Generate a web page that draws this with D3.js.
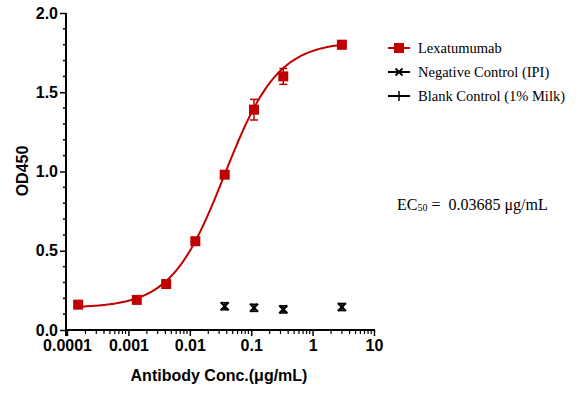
<!DOCTYPE html>
<html><head><meta charset="utf-8">
<script src="https://cdn.jsdelivr.net/npm/d3@7/dist/d3.min.js"></script>
<style>body{margin:0;background:#fff}svg{display:block}text{white-space:pre}</style>
</head><body><svg id="c" width="579" height="397"></svg>
<script>
const concs = [0.000152, 0.00137, 0.00412, 0.0123, 0.037, 0.111, 0.333, 3];
const lexValues = [0.16, 0.19, 0.29, 0.56, 0.98, 1.39, 1.60, 1.80];
const lexErrors = [0.01, 0.01, 0.01, 0.01, 0.01, 0.065, 0.05, 0.025];
const negConcs = [0.037, 0.111, 0.333, 3];
const negValues = [0.15, 0.14, 0.13, 0.145];
const negErrors = [0.01, 0.01, 0.01, 0.01];
const xTicks = [0.0001, 0.001, 0.01, 0.1, 1, 10];
const xTickLabels = ["0.0001", "0.001", "0.01", "0.1", "1", "10"];
const yTicks = [0, 0.5, 1.0, 1.5, 2.0];
const legendLabels = ["Lexatumumab", "Negative Control (IPI)", "Blank Control (1% Milk)"];
const fitBottom = 0.14, fitTop = 1.82, fitEC50 = 0.03685, fitHill = 1.0;

const red = "#c00000";
const svg = d3.select("#c");
const x = d3.scaleLog().domain([0.0001, 10]).range([67, 374]);
const y = d3.scaleLinear().domain([0, 2]).range([330, 13]);

// curve from fitted 4PL parameters
const fit = c => fitBottom + (fitTop - fitBottom) / (1 + Math.pow(fitEC50 / c, fitHill));
const curveX = d3.range(0, 201).map(i => Math.pow(10, Math.log10(concs[0]) + i / 200 * (Math.log10(concs[concs.length-1]) - Math.log10(concs[0]))));
svg.append("path").datum(curveX)
  .attr("d", d3.line().x(c => x(c)).y(c => y(fit(c))))
  .attr("fill", "none").attr("stroke", red).attr("stroke-width", 2);

// axes
const yAxis = d3.axisLeft(y).tickValues(yTicks).tickFormat(d3.format(".1f")).tickSize(6).tickPadding(2);
const gy = svg.append("g").attr("transform", "translate(66,0)").call(yAxis);
gy.select(".domain").remove();
gy.append("line").attr("x1", 0).attr("x2", 0).attr("y1", y(2)).attr("y2", 336).attr("stroke", "#000").attr("stroke-width", 2);
gy.selectAll(".tick line").attr("stroke-width", 1.5);
gy.selectAll("text").attr("font-family", "Liberation Sans, Arial").attr("font-weight", "bold").attr("font-size", 16).attr("fill", "#000");
// y minor ticks
svg.append("g").selectAll("line").data(d3.range(1, 20).filter(i => i % 5 !== 0).map(i => i / 10)).join("line")
  .attr("x1", 63).attr("x2", 66).attr("y1", d => y(d)).attr("y2", d => y(d)).attr("stroke", "#000").attr("stroke-width", 1.5);

const xAxis = d3.axisBottom(x).tickValues(xTicks).tickFormat((d, i) => xTickLabels[i]).tickSize(6).tickPadding(4);
const gx = svg.append("g").attr("transform", "translate(0,330)").call(xAxis);
gx.select(".domain").remove();
gx.append("line").attr("x1", 66).attr("x2", 375).attr("y1", 0).attr("y2", 0).attr("stroke", "#000").attr("stroke-width", 2);
gx.selectAll(".tick line").attr("stroke-width", 1.5);
gx.selectAll("text").attr("font-family", "Liberation Sans, Arial").attr("font-weight", "bold").attr("font-size", 16).attr("fill", "#000");
const minor = [];
for (let e = -4; e < 1; e++) for (let m = 2; m <= 9; m++) minor.push(m * Math.pow(10, e));
svg.append("g").selectAll("line").data(minor).join("line")
  .attr("x1", d => x(d)).attr("x2", d => x(d)).attr("y1", 330).attr("y2", 334).attr("stroke", "#000").attr("stroke-width", 1.2);

// axis titles
svg.append("text").attr("x", 219).attr("y", 381).attr("text-anchor", "middle")
  .attr("font-family", "Liberation Sans, Arial").attr("font-weight", "bold").attr("font-size", 16).text("Antibody Conc.(μg/mL)");
svg.append("text").attr("transform", "translate(28,171) rotate(-90)").attr("text-anchor", "middle")
  .attr("font-family", "Liberation Sans, Arial").attr("font-weight", "bold").attr("font-size", 16).text("OD450");

// error bars Lexatumumab
const eb = svg.append("g").attr("stroke", red).attr("stroke-width", 1.5);
concs.forEach((c, i) => {
  const cx = x(c), y1 = y(lexValues[i] + lexErrors[i]), y2 = y(lexValues[i] - lexErrors[i]);
  eb.append("line").attr("x1", cx).attr("x2", cx).attr("y1", y1).attr("y2", y2);
  eb.append("line").attr("x1", cx - 4).attr("x2", cx + 4).attr("y1", y1).attr("y2", y1);
  eb.append("line").attr("x1", cx - 4).attr("x2", cx + 4).attr("y1", y2).attr("y2", y2);
});
svg.append("g").selectAll("rect").data(concs).join("rect")
  .attr("x", d => x(d) - 5).attr("y", (d, i) => y(lexValues[i]) - 5).attr("width", 10).attr("height", 10).attr("fill", red);

// negative control markers
const ng = svg.append("g").attr("stroke", "#000").attr("stroke-width", 2.2);
negConcs.forEach((c, i) => {
  const cx = x(c), cy = y(negValues[i]), s = 4;
  ng.append("line").attr("x1", cx - s).attr("x2", cx + s).attr("y1", cy - s).attr("y2", cy + s);
  ng.append("line").attr("x1", cx - s).attr("x2", cx + s).attr("y1", cy + s).attr("y2", cy - s);
  const ey1 = y(negValues[i] + negErrors[i]) - 2, ey2 = y(negValues[i] - negErrors[i]) + 2;
  ng.append("line").attr("x1", cx).attr("x2", cx).attr("y1", ey1).attr("y2", ey2).attr("stroke-width", 1.5);
  ng.append("line").attr("x1", cx - 3).attr("x2", cx + 3).attr("y1", ey1).attr("y2", ey1).attr("stroke-width", 1.5);
  ng.append("line").attr("x1", cx - 3).attr("x2", cx + 3).attr("y1", ey2).attr("y2", ey2).attr("stroke-width", 1.5);
});

// legend
const lg = svg.append("g");
legendLabels.forEach((t, i) => {
  const ly = 48 + i * 24;
  const col = i === 0 ? red : "#000";
  lg.append("line").attr("x1", 388).attr("x2", 410).attr("y1", ly).attr("y2", ly).attr("stroke", col).attr("stroke-width", 2);
  if (i === 0) lg.append("rect").attr("x", 394).attr("y", ly - 5).attr("width", 10).attr("height", 10).attr("fill", red);
  if (i === 1) {
    lg.append("line").attr("x1", 395.5).attr("x2", 402.5).attr("y1", ly - 3.5).attr("y2", ly + 3.5).attr("stroke", "#000").attr("stroke-width", 2);
    lg.append("line").attr("x1", 395.5).attr("x2", 402.5).attr("y1", ly + 3.5).attr("y2", ly - 3.5).attr("stroke", "#000").attr("stroke-width", 2);
  }
  if (i === 2) lg.append("line").attr("x1", 399).attr("x2", 399).attr("y1", ly - 5).attr("y2", ly + 5).attr("stroke", "#000").attr("stroke-width", 1.5);
  lg.append("text").attr("x", 418).attr("y", ly + 5).attr("font-family", "Liberation Serif, Times New Roman").attr("font-size", 14.5).text(t);
});

// EC50 annotation
const ec = svg.append("text").attr("x", 397).attr("y", 210).attr("font-family", "Liberation Serif, Times New Roman").attr("font-size", 16);
ec.append("tspan").text("EC");
ec.append("tspan").attr("font-size", 10).attr("dy", 1).text("50");
ec.append("tspan").attr("dy", -1).text(" =  0.03685 μg/mL");
</script></body></html>
